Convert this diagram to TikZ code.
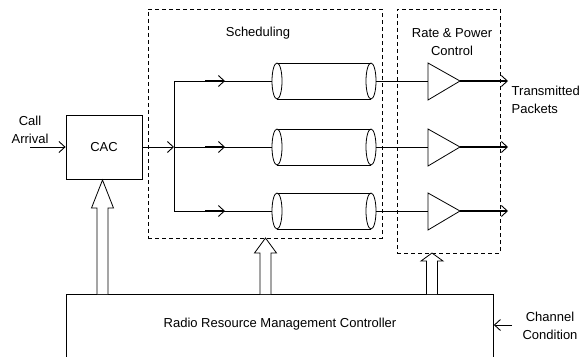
\documentclass[tikz,border=0pt]{standalone}
\usepackage{fontspec}
\setmainfont{Liberation Sans}
\usetikzlibrary{arrows.meta,positioning}

\tikzset{
  box/.style={draw, line width=0.8pt},
  zone/.style={draw, line width=0.7pt, dash pattern=on 4pt off 3pt},
}
%% hollow up arrow: x, bottom y, head base y, tip y
\newcommand{\fatarrow}[4]{%
  \draw[fill=white] (#1-5.5,#2) -- (#1-5.5,#3) -- (#1-11,#3) -- (#1,#4)
    -- (#1+11,#3) -- (#1+5.5,#3) -- (#1+5.5,#2);}

\begin{document}
\begin{tikzpicture}[x=1pt,y=-1pt,line width=0.8pt,
    >={Straight Barb[length=6pt,width=11pt,line width=0.9pt]},font=\fontsize{13}{18}\selectfont]
    \useasboundingbox (0,0) rectangle (588,356);
    %% blocks
    \node[box, minimum width=76pt, minimum height=64pt] (cac) at (104,147) {CAC};
    \node[zone, minimum width=234pt, minimum height=229pt] (sched) at (265,123.5) {};
    \node[zone, minimum width=103pt, minimum height=244pt] (rpc) at (448.5,131) {};
    \node[box, anchor=north west, minimum width=427pt, minimum height=80pt] (rrm) at (66,294) {};
    %% texts
    \node (schedtxt) at (258,33) {Scheduling};
    \node[align=center] (rpctxt) at (452,42) {Rate \& Power\\Control};
    \node (rrmtxt) at (280,324) {Radio Resource Management Controller};
    \node[align=center] (call) at (30,130) {Call\\Arrival};
    \node[align=left, anchor=west] (txpk) at (508,100) {Transmitted\\Packets};
    \node[align=center] (chan) at (550,326) {Channel\\Condition};
    %% inputs
    \coordinate (callin) at (30,147);
    \coordinate (bus) at (174,147);
    \coordinate (chin) at (512,325);
    \draw[thick,->] (callin) -- (cac.west);
    \draw[->] (cac.east) -- (bus);
    \draw[->] (chin) -- (rrm.east |- chin);
    %% queues and amplifiers
    \foreach \y/\n in {81/1,147/2,211/3}{
      \coordinate (br\n) at (174,\y);
      \coordinate (pre\n) at (205,\y);
      \coordinate (mid\n) at (225,\y);
      \coordinate (qin\n) at (272,\y);
      \coordinate (qout\n) at (376,\y);
      \coordinate (ampin\n) at (428,\y);
      \coordinate (amp\n) at (460,\y);
      \coordinate (tx\n) at (508,\y);
      \draw (br\n) -- (qin\n);
      \draw[line width=1.4pt,->] (pre\n) -- (mid\n);
      \draw (277,\y-18) -- (371,\y-18) (277,\y+18) -- (371,\y+18);
      \draw[fill=white] (277,\y) ellipse (5 and 18);
      \draw (371,\y) ellipse (5 and 18);
      \draw (qout\n) -- (ampin\n);
      \draw (428,\y-18) -- (amp\n) -- (428,\y+19) -- cycle;
      \draw[line width=1.4pt,->] (amp\n) -- (tx\n);
    }
    \draw (br1) -- (br3);
    %% control arrows from the controller
    \fatarrow{102.5}{294}{208}{180}
    \fatarrow{265.5}{294}{253}{238}
    \fatarrow{432}{294}{261}{253}
\end{tikzpicture}
\end{document}
